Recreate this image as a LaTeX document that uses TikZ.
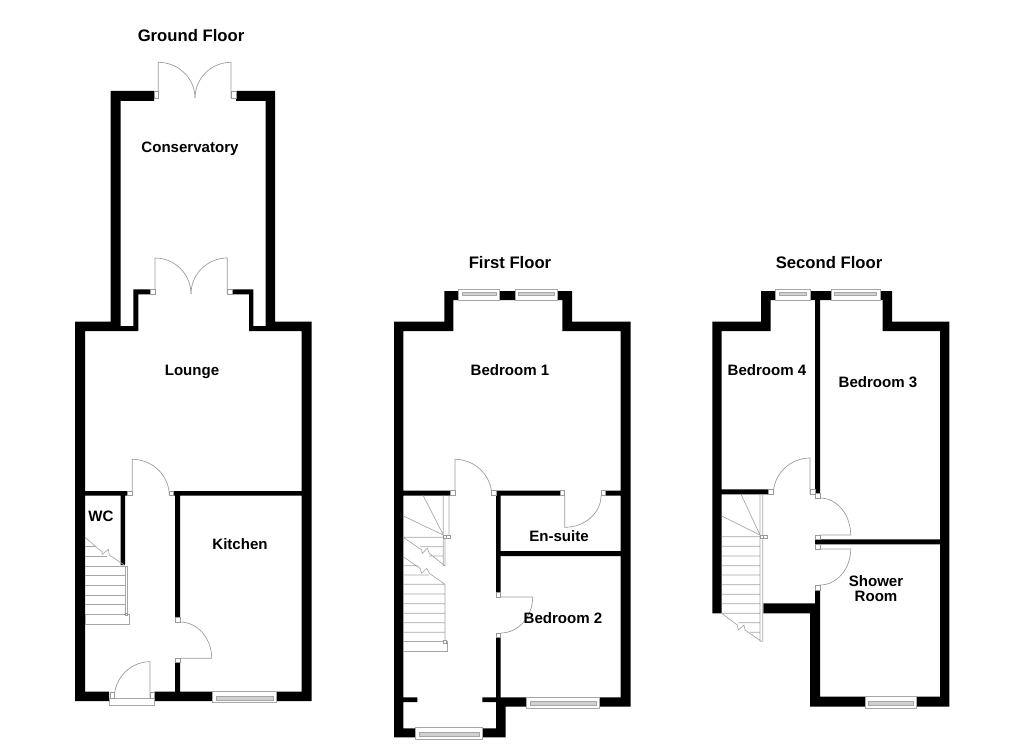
\documentclass[tikz,border=0pt]{standalone}
\usepackage{fontspec}
\setmainfont{Liberation Sans}
\usetikzlibrary{calc}

\tikzset{
    wall/.style={fill=black},
    door/.style={draw=black!40, line width=0.5pt},
    jamb/.style={draw=black!40, line width=0.5pt, fill=white},
    stair/.style={draw=black!35, line width=0.5pt},
    pane/.style={draw=black!35, line width=0.4pt, fill=black!18},
    frame/.style={draw=black!35, line width=0.5pt, fill=white},
    room/.style={font=\fontsize{11.3}{11.4}\selectfont\bfseries, align=center, inner sep=0pt},
    title/.style={font=\fontsize{12.5}{15}\selectfont\bfseries, inner sep=0pt},
}

% hinge, end of the open leaf, point the leaf closes on
\newcommand{\swing}[3]{\draw[door] (#1) -- (#2) .. controls ($(#2)+0.55*(#3)-0.55*(#1)$) and ($(#3)+0.55*(#2)-0.55*(#1)$) .. (#3);}
\newcommand{\glazing}[6]{
    \draw[frame] (#1,#2) rectangle (#3,#4);
    \draw[pane] ({#1+3.5},#5) rectangle ({#3-3.5},#6);
}

\begin{document}
\begin{tikzpicture}[x=0.75pt, y=-0.75pt]
    \useasboundingbox (0,0) rectangle (1024,745);

    \fill[wall] (110.7,91) rectangle (154,101)
        (236,91) rectangle (275,101)
        (110.7,91) rectangle (120.7,331)
        (265.7,91) rectangle (275,331)
        (75,321.5) rectangle (120.7,331)
        (120,326) rectangle (138.3,331)
        (249,326) rectangle (265.7,331)
        (265.7,321.5) rectangle (311.7,331)
        (133.3,289.3) rectangle (138.3,331)
        (133.3,289.3) rectangle (150,294.3)
        (232,289.3) rectangle (253.3,294.3)
        (249,289.3) rectangle (253.3,331)
        (75,321.5) rectangle (85,701)
        (301.7,321.5) rectangle (311.7,701)
        (85,491) rectangle (127.3,495.7)
        (173.7,491) rectangle (302,495.7)
        (120.7,491) rectangle (125,565)
        (175,491) rectangle (180,617.7)
        (175,662.7) rectangle (180,692)
        (75,691.7) rectangle (109,701)
        (154.3,691.7) rectangle (212.7,701)
        (276.7,691.7) rectangle (311.7,701);

    \swing{158.3,98}{158.3,62.3}{195,98}
    \swing{231,98}{231,62.3}{195,98}
    \draw[jamb] (154,91) rectangle (158.3,98);
    \draw[jamb] (231,91) rectangle (236,98);
    \swing{155,294}{155,258}{191,294}
    \swing{227.3,294}{227.3,258}{191,294}
    \draw[jamb] (150,289.3) rectangle (155,294.3);
    \draw[jamb] (227.3,289.3) rectangle (232,294.3);
    \swing{132.3,495.7}{132.3,459.3}{169.3,495.7}
    \draw[jamb] (127.3,491) rectangle (132.3,495.7);
    \draw[jamb] (169.3,491) rectangle (173.7,495.7);
    \swing{180,658.3}{211.7,658.3}{180,622}
    \draw[jamb] (175,617.7) rectangle (180,622);
    \draw[jamb] (175,658.3) rectangle (180,662.7);
    \draw[frame] (109,698) rectangle (154.3,705);
    \swing{150,698}{150,661.7}{114.3,698}
    \draw[jamb] (110,692) rectangle (114,698);
    \draw[jamb] (150,692) rectangle (154,698);
    \glazing{212.7}{691.7}{276.7}{702.7}{696.7}{700}

    \draw[stair] (85,537.3) -- (101.7,551.7) -- (102.3,554.3) -- (108.3,549.3) -- (109.3,555) -- (124.3,565);
    \draw[stair] (85,546.7) -- (96,546.7)
        (85,556.7) -- (107,556.7)
        (85,566) -- (127.3,566)
        (85,575.7) -- (125,575.7)
        (85,585.3) -- (125,585.3)
        (85,595) -- (125,595)
        (85,604.7) -- (125,604.7)
        (125,566) -- (125,614.3)
        (127.3,566) -- (127.3,614.3);
    \draw[stair] (85,614.3) rectangle (129,624.3);
    \draw[jamb] (125,613) rectangle (127.5,615.5);

    \fill[wall] (444.3,291) rectangle (458.3,300)
        (499.3,291) rectangle (515,300)
        (557.3,291) rectangle (572,300)
        (444.3,291) rectangle (453.3,331)
        (562.3,291) rectangle (572,331)
        (394,321.7) rectangle (453.3,331)
        (562.3,321.7) rectangle (630.7,331)
        (394,321.7) rectangle (403.3,737.3)
        (620.7,321.7) rectangle (630.7,706.7)
        (403,490.7) rectangle (450.7,495.7)
        (496,490.7) rectangle (560,495.7)
        (605,490.7) rectangle (621,495.7)
        (496,490.7) rectangle (500.7,592.7)
        (500,551) rectangle (621,556)
        (496,637.7) rectangle (500.7,697.3)
        (505,697.3) rectangle (526.7,706.7)
        (599.3,697.3) rectangle (630.7,706.7)
        (496,697.3) rectangle (505.7,737.3)
        (403,697.3) rectangle (417.3,702)
        (482.3,697.3) rectangle (496,702)
        (394,728.3) rectangle (415.7,737.3)
        (482.3,728.3) rectangle (505.7,737.3);

    \glazing{458.3}{289}{499.3}{300.7}{292.3}{295.7}
    \glazing{515}{289}{557.3}{300.7}{292.3}{295.7}
    \swing{455,495.7}{455,459.3}{491.7,495.7}
    \draw[jamb] (450.7,490.7) rectangle (455,495.7);
    \draw[jamb] (491.7,490.7) rectangle (496,495.7);
    \swing{564.7,495.7}{564.7,527.3}{601,495.7}
    \draw[jamb] (560,490.7) rectangle (564.7,495.7);
    \draw[jamb] (601,490.7) rectangle (605,495.7);
    \swing{500.7,597}{532.7,597}{500.7,633}
    \draw[jamb] (496,592.7) rectangle (500.7,597);
    \draw[jamb] (496,633) rectangle (500.7,637.7);
    \glazing{526.7}{697.3}{599.3}{708.3}{701.7}{705}
    \glazing{415.7}{727.7}{482.3}{739.3}{732.7}{736}

    \draw[stair] (423.3,495.7) -- (443.3,535) -- (403.3,516)
        (403.3,537.3) -- (443.3,537.3)
        (443.3,495.7) -- (443.3,566)
        (449,495.7) -- (449,535)
        (403.3,537.3) -- (421.7,550) -- (422.3,553.3) -- (427.3,548.3) -- (429.3,553.3) -- (445,566) -- (445,537.3)
        (420,546.7) -- (443.3,546.7)
        (429,556) -- (443.3,556)
        (403.3,556.7) -- (420,568.3) -- (421.7,573.3) -- (426.7,568.3) -- (429.3,573.3) -- (445,584.3)
        (403.3,565.7) -- (418,565.7)
        (403.3,575) -- (429,575)
        (403.3,584.3) -- (445,584.3)
        (403.3,594) -- (445,594)
        (403.3,603.7) -- (445,603.7)
        (403.3,613.3) -- (445,613.3)
        (403.3,622.7) -- (445,622.7)
        (403.3,632.3) -- (445,632.3)
        (445,584.3) -- (445,641.7);
    \draw[stair] (403.3,641.7) rectangle (447.3,651.7);
    \draw[jamb] (443.3,535) rectangle (446.7,538.3);
    \draw[jamb] (446.7,535) rectangle (450.7,538.3);
    \draw[jamb] (443.5,640) rectangle (446.5,643);

    \fill[wall] (761,291) rectangle (775.7,300)
        (810,291) rectangle (831,300)
        (880,291) rectangle (892,300)
        (761,291) rectangle (770.7,331)
        (882.7,291) rectangle (892,331)
        (712.3,321.7) rectangle (770.7,331)
        (882.7,321.7) rectangle (949.3,331)
        (712.3,321.7) rectangle (721.7,613.3)
        (940,321.7) rectangle (949.3,706.7)
        (815,300) rectangle (820,493.3)
        (721.7,489.3) rectangle (768.3,494.3)
        (815,539.3) rectangle (940,544.3)
        (815,590) rectangle (820,603.3)
        (763.3,603.3) rectangle (820,613.3)
        (810,603.3) rectangle (820,706.7)
        (810,696.7) rectangle (865,706.7)
        (916.7,696.7) rectangle (949.3,706.7);

    \glazing{775.7}{289}{810}{300.7}{292.3}{295.7}
    \glazing{831}{289}{880}{300.7}{292.3}{295.7}
    \swing{810,494.3}{810,458}{773.3,494.3}
    \draw[jamb] (768.3,489.3) rectangle (773,494.3);
    \draw[jamb] (810,489.3) rectangle (815,494.3);
    \swing{820,535}{850.7,535}{820,498}
    \draw[jamb] (815,493.3) rectangle (820,498);
    \draw[jamb] (815,535) rectangle (820,539.3);
    \swing{820,549}{850.7,549}{820,585}
    \draw[jamb] (815,544.3) rectangle (820,549);
    \draw[jamb] (815,585) rectangle (820,590);
    \glazing{865}{696.7}{916.7}{708.3}{701.7}{705}

    \draw[stair] (741,494.3) -- (760,535) -- (721.7,516)
        (721.7,536.7) -- (760,536.7)
        (721.7,546.3) -- (760,546.3)
        (721.7,556) -- (760,556)
        (721.7,565.7) -- (760,565.7)
        (721.7,575) -- (760,575)
        (721.7,584.7) -- (760,584.7)
        (721.7,594.3) -- (760,594.3)
        (721.7,603.7) -- (760,603.7)
        (721.7,613.3) -- (760,613.3)
        (738.3,622.7) -- (760,622.7)
        (750,632.3) -- (760,632.3)
        (721.7,613.3) -- (737.3,625) -- (738.3,630) -- (744,625) -- (745,630) -- (761.7,641.7)
        (760,494.3) -- (760,641.7)
        (762.7,494.3) -- (762.7,641.7);
    \draw[jamb] (760,535) rectangle (763,538.3);
    \draw[jamb] (763,535) rectangle (767.7,538.3);

    \node (ground) [title] at (191,36) {Ground Floor};
    \node (conservatory) [room] at (190,149) {Conservatory};
    \node (lounge) [room] at (192,372) {Lounge};
    \node (wc) [room] at (101,516) {WC};
    \node (kitchen) [room] at (240,544) {Kitchen};
    \node (first) [title] at (510,263) {First Floor};
    \node (bedone) [room] at (510,370) {Bedroom 1};
    \node (ensuite) [room] at (559,536) {En-suite};
    \node (bedtwo) [room] at (563,618) {Bedroom 2};
    \node (second) [title] at (829,263) {Second Floor};
    \node (bedfour) [room] at (767,370) {Bedroom 4};
    \node (bedthree) [room] at (878,382) {Bedroom 3};
    \node (shower) [room] at (876,589) {Shower\\Room};
\end{tikzpicture}
\end{document}
